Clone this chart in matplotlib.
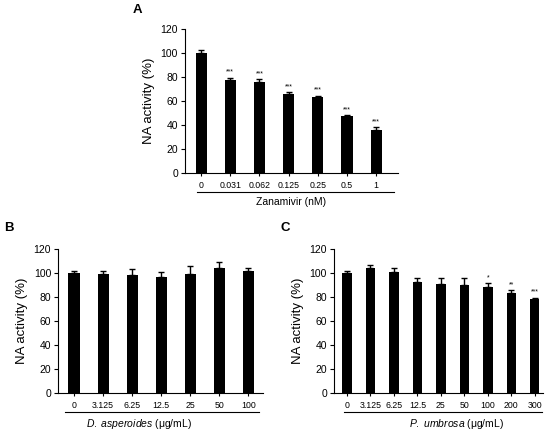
import numpy as np
import matplotlib.pyplot as plt

plt.rcParams['font.family'] = ['Liberation Sans', 'DejaVu Sans']
plt.rcParams['mathtext.fontset'] = 'custom'
plt.rcParams['mathtext.rm'] = 'Liberation Sans'
plt.rcParams['mathtext.it'] = 'Liberation Sans:italic'

# panel A - zanamivir
zan_labels = ['0', '0.031', '0.062', '0.125', '0.25', '0.5', '1']
zan_vals = [100, 77.5, 76, 66, 63, 47.5, 36]
zan_err = [2.5, 2, 2, 1.5, 1.5, 1, 2]
zan_sig = ['', '***', '***', '***', '***', '***', '***']

# panel B - D. asperoides
da_labels = ['0', '3.125', '6.25', '12.5', '25', '50', '100']
da_vals = [100, 99, 98.5, 96.5, 99.5, 104.5, 101.5]
da_err = [2, 2.5, 4.5, 4, 6, 5, 3]
da_sig = [''] * 7

# panel C - P. umbrosa
pu_labels = ['0', '3.125', '6.25', '12.5', '25', '50', '100', '200', '300']
pu_vals = [100, 104, 101, 92.5, 91, 90, 88, 83.5, 78.5]
pu_err = [2, 2.5, 3, 3.5, 5, 5.5, 3.5, 2.5, 1]
pu_sig = ['', '', '', '', '', '', '*', '**', '***']

fig = plt.figure(figsize=(5.5, 4.36), dpi=100)


def panel(rect, labels, vals, err, sig, xlabel, line_x, xlab_x, width, pad_right):
    ax = fig.add_axes(rect)
    x = np.arange(len(vals))
    ax.bar(x, vals, width=width, color='black', zorder=2)
    ax.errorbar(x, vals, yerr=[np.zeros(len(err)), err], fmt='none',
                ecolor='black', elinewidth=1, capsize=2.2, capthick=1, zorder=3)
    for xi, v, e, s in zip(x, vals, err, sig):
        if s:
            ax.text(xi, v + e + 1.5, s, ha='center', va='bottom', fontsize=5)
    ax.set_ylim(0, 120)
    ax.set_yticks(range(0, 121, 20))
    ax.set_xlim(-0.55, len(vals) - 1 + pad_right)
    ax.set_xticks(x)
    ax.set_xticklabels(labels, fontsize=6.3)
    ax.tick_params(axis='y', labelsize=7.5, length=3, width=0.8, pad=2)
    ax.tick_params(axis='x', length=2.5, width=0.8, pad=3)
    for s in ['top', 'right']:
        ax.spines[s].set_visible(False)
    for s in ['left', 'bottom']:
        ax.spines[s].set_linewidth(0.8)
    ax.set_ylabel('NA activity (%)', fontsize=9.5, labelpad=4)
    ax.plot(line_x, [-0.135, -0.135], color='black', lw=0.8,
            transform=ax.transAxes, clip_on=False)
    ax.text(xlab_x, -0.165, xlabel, transform=ax.transAxes, ha='center',
            va='top', fontsize=7.5)
    return ax


panel([0.3364, 0.6032, 0.3873, 0.3303], zan_labels, zan_vals, zan_err, zan_sig,
      'Zanamivir (nM)', [0.056, 0.981], 0.5, 0.38, 0.75)
panel([0.1055, 0.0986, 0.3727, 0.3303], da_labels, da_vals, da_err, da_sig,
      r'$\it{D.}$ $\it{asperoides}$ (μg/mL)', [0.034, 0.98], 0.395, 0.38, 0.5)
panel([0.6073, 0.0986, 0.38, 0.3303], pu_labels, pu_vals, pu_err, pu_sig,
      r'$\it{P.}$ $\it{umbrosa}$ (μg/mL)', [0.048, 0.995], 0.584, 0.4, 0.35)

fig.text(137 / 550, 1 - 10 / 436, 'A', fontsize=9.5, fontweight='bold', ha='center', va='center')
fig.text(9 / 550, 1 - 228 / 436, 'B', fontsize=9.5, fontweight='bold', ha='center', va='center')
fig.text(285 / 550, 1 - 228 / 436, 'C', fontsize=9.5, fontweight='bold', ha='center', va='center')

fig.savefig('out.png', dpi=100)
